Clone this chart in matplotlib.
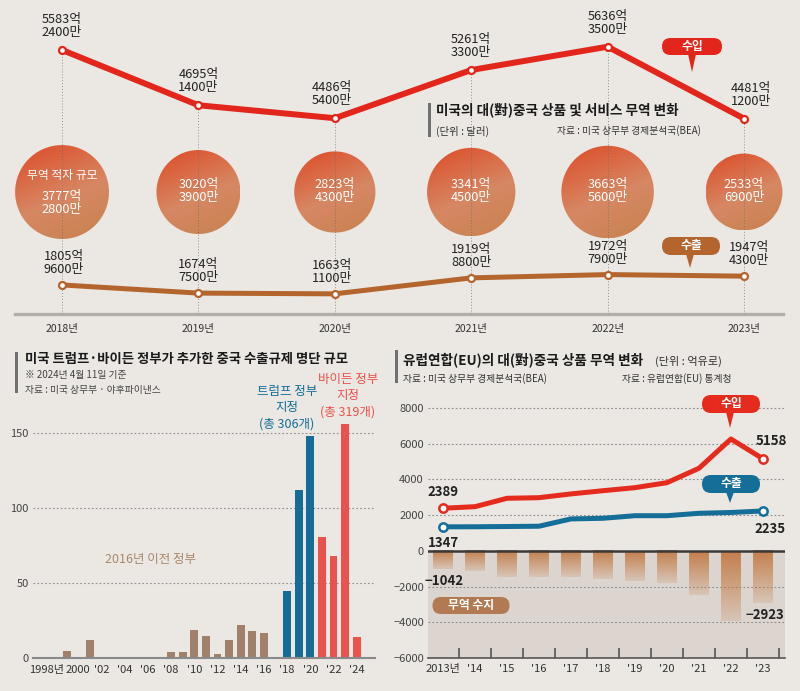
import numpy as np
import matplotlib
matplotlib.use("Agg")
import matplotlib.pyplot as plt
from matplotlib.patches import Ellipse, FancyBboxPatch, Polygon, Rectangle
from matplotlib.transforms import Affine2D, ScaledTranslation
import matplotlib.colors as mcolors

plt.rcParams['font.family'] = ['Noto Sans CJK KR', 'DejaVu Sans']

# ---------------- data ----------------
us_years = [2018, 2019, 2020, 2021, 2022, 2023]
us_import = [5583.24, 4695.14, 4486.54, 5261.33, 5636.35, 4481.12]
us_import_labels = ["5583억\n2400만", "4695억\n1400만", "4486억\n5400만",
                    "5261억\n3300만", "5636억\n3500만", "4481억\n1200만"]
us_export = [1805.96, 1674.75, 1663.11, 1919.88, 1972.79, 1947.43]
us_export_labels = ["1805억\n9600만", "1674억\n7500만", "1663억\n1100만",
                    "1919억\n8800만", "1972억\n7900만", "1947억\n4300만"]
us_deficit = [3777.28, 3020.39, 2823.43, 3341.45, 3663.56, 2533.69]
us_deficit_labels = ["3777억\n2800만", "3020억\n3900만", "2823억\n4300만",
                     "3341억\n4500만", "3663억\n5600만", "2533억\n6900만"]

el_years = list(range(1997, 2025))
el_counts = [1, 0, 5, 0, 12, 0, 0, 0, 0, 0, 0, 4, 4, 19, 15, 3, 12, 22, 18, 17,
             1, 45, 112, 148, 81, 68, 156, 14]
el_admin = ['pre'] * 20 + ['trump'] * 4 + ['biden'] * 4
el_tick_years = list(range(1998, 2025, 2))
el_tick_labels = ["1998년", "2000", "'02", "'04", "'06", "'08", "'10", "'12",
                  "'14", "'16", "'18", "'20", "'22", "'24"]

eu_years = list(range(2013, 2024))
eu_import = [2389, 2475, 2945, 2980, 3190, 3370, 3540, 3820, 4625, 6265, 5158]
eu_export = [1347, 1350, 1365, 1380, 1790, 1825, 1970, 1970, 2105, 2150, 2235]
eu_balance = [-1042, -1130, -1490, -1490, -1470, -1580, -1680, -1825, -2460, -3910, -2923]
eu_tick_labels = ["2013년", "'14", "'15", "'16", "'17", "'18", "'19", "'20", "'21", "'22", "'23"]

# ---------------- style ----------------
BG = '#ebe7e3'
RED_TOP = '#e2261b'
BROWN_TOP = '#b4652e'
BAR_PRE = '#a0806a'
BAR_TRUMP = '#146d97'
BAR_BIDEN = '#ea524e'
EU_RED = '#e42b1e'
EU_BLUE = '#156e97'
TXT = '#222222'

W, H = 800, 691
fig = plt.figure(figsize=(W / 100, H / 100), dpi=100, facecolor=BG)
PX = Affine2D().scale(1 / W, -1 / H).translate(0, 1) + fig.transFigure


def ax_rect(x0, y0, x1, y1):
    return [x0 / W, 1 - y1 / H, (x1 - x0) / W, (y1 - y0) / H]


def bubble(cx, cy, w, h, color, text, tip=None, fs=8.5):
    box = FancyBboxPatch((cx - w / 2, cy - h / 2), w, h,
                         boxstyle=f"round,pad=0,rounding_size={h / 2}",
                         transform=PX, fc=color, ec='none', zorder=10)
    fig.add_artist(box)
    if tip is not None:
        tx, ty = tip
        tri = Polygon([(tx - 4, cy + h / 2 - 1), (tx + 4, cy + h / 2 - 1), (tx, ty)],
                      closed=True, transform=PX, fc=color, ec='none', zorder=10)
        fig.add_artist(tri)
    fig.text(cx, cy, text, transform=PX, ha='center', va='center', color='white',
             fontsize=fs, fontweight='bold', zorder=11)


def title_block(x_bar, y0, y1, x_text, y_title, title, fs):
    fig.add_artist(Rectangle((x_bar, y0), 3, y1 - y0, transform=PX, fc='#707070', ec='none'))
    fig.text(x_text, y_title, title, transform=PX, ha='left', va='center',
             fontsize=fs, fontweight='bold', color='#1a1a1a')


# ================= top panel =================
ax1 = fig.add_axes(ax_rect(15, 0, 783, 314))
ax1.set_facecolor('none')
x_lim1 = (2017.655, 2023.286)
y_lim1 = (1339, 6387)
ax1.set_xlim(*x_lim1)
ax1.set_ylim(*y_lim1)
px_per_x = 768 / (x_lim1[1] - x_lim1[0])
px_per_y = 314 / (y_lim1[1] - y_lim1[0])
circle_y = 3300

# gradient circles
N = 120
rr, cc = np.mgrid[0:N, 0:N] / (N - 1)
t = np.clip(0.7 * rr + 0.3 * cc, 0, 1)
stops = np.array([[0.87, 0.29, 0.15], [0.84, 0.53, 0.39], [0.78, 0.51, 0.31]])
img = np.zeros((N, N, 3))
for k in range(3):
    img[..., k] = np.interp(t, [0, 0.55, 1], stops[:, k])

num_kw = dict(fontsize=9.2, fontweight='medium', linespacing=1.0)
for yr, dv, lab in zip(us_years, us_deficit, us_deficit_labels):
    r = 0.764 * np.sqrt(dv)
    w = 2 * r / px_per_x
    h = 2 * r / px_per_y
    e = Ellipse((yr, circle_y), w, h, fc='none', ec='none')
    ax1.add_patch(e)
    im = ax1.imshow(img, extent=[yr - w / 2, yr + w / 2, circle_y - h / 2, circle_y + h / 2],
                    aspect='auto', zorder=2, interpolation='bilinear')
    im.set_clip_path(e)
    if yr == us_years[0]:
        ax1.annotate("무역 적자 규모", (yr, circle_y), xytext=(0, 17), textcoords='offset pixels',
                     ha='center', va='center', color='white', fontsize=8.5, zorder=6)
        ax1.annotate(lab, (yr, circle_y), xytext=(0, -11), textcoords='offset pixels',
                     ha='center', va='center', color='white', zorder=6, **num_kw)
    else:
        ax1.annotate(lab, (yr, circle_y), xytext=(0, 1), textcoords='offset pixels',
                     ha='center', va='center', color='white', zorder=6, **num_kw)

ax1.vlines(us_years, y_lim1[0], us_import, colors='#6a6a6a', linestyles=(0, (1, 2)),
           lw=0.7, alpha=0.7, zorder=3)
ax1.plot(us_years, us_import, color=RED_TOP, lw=4.3, solid_joinstyle='round', zorder=4)
ax1.plot(us_years, us_import, 'o', ms=5, mfc='white', mec=RED_TOP, mew=1.6, zorder=5)
ax1.plot(us_years, us_export, color=BROWN_TOP, lw=3.6, solid_joinstyle='round', zorder=4)
ax1.plot(us_years, us_export, 'o', ms=5, mfc='white', mec=BROWN_TOP, mew=1.6, zorder=5)

imp_dx = [0, 0, -3, 0, 0, 7]
for yr, v, lab, dx in zip(us_years, us_import, us_import_labels, imp_dx):
    ax1.annotate(lab, (yr, v), xytext=(dx, 11), textcoords='offset pixels', ha='center',
                 va='bottom', color=TXT, zorder=6, **num_kw)
exp_dx = [2, 0, -3, 0, 0, 5]
for yr, v, lab, dx in zip(us_years, us_export, us_export_labels, exp_dx):
    ax1.annotate(lab, (yr, v), xytext=(dx, 9), textcoords='offset pixels', ha='center',
                 va='bottom', color=TXT, zorder=6, **num_kw)

ax1.set_xticks(us_years, labels=[f"{y}년" for y in us_years])
ax1.tick_params(axis='x', length=0, pad=7, labelsize=7.5, labelcolor='#333333')
ax1.set_yticks([])
for s in ['left', 'right', 'top']:
    ax1.spines[s].set_visible(False)
ax1.spines['bottom'].set_color('#b3aea9')
ax1.spines['bottom'].set_linewidth(2.4)
ax1.set_xlim(*x_lim1)
ax1.set_ylim(*y_lim1)

title_block(428, 103, 137, 436, 110, "미국의 대(對)중국 상품 및 서비스 무역 변화", 9.8)
fig.text(436, 131, "(단위 : 달러)", transform=PX, ha='left', va='center', fontsize=7.5, color='#333333')
fig.text(557, 131, "자료 : 미국 상무부 경제분석국(BEA)", transform=PX, ha='left', va='center',
         fontsize=7, color='#333333')
bubble(692, 46.5, 60, 17, RED_TOP, "수입", tip=(692, 72))
bubble(691, 246, 58, 18, BROWN_TOP, "수출", tip=(690, 268))

# ================= bottom left panel =================
ax2 = fig.add_axes(ax_rect(33, 370, 375, 658.3))
ax2.set_facecolor('none')
cmap_admin = {'pre': BAR_PRE, 'trump': BAR_TRUMP, 'biden': BAR_BIDEN}
ax2.bar(el_years, el_counts, width=0.68, color=[cmap_admin[a] for a in el_admin], zorder=3)
ax2.set_xlim(1996.1, 2025.58)
ax2.set_ylim(0, 192)
ax2.set_yticks([0, 50, 100, 150])
ax2.yaxis.grid(True, color='#8f8f8f', linestyle=(0, (1.5, 2)), lw=0.8)
ax2.set_axisbelow(True)
ax2.tick_params(axis='y', length=0, pad=3, labelsize=8, labelcolor='#444444')
ax2.set_xticks(el_tick_years, labels=el_tick_labels)
ax2.tick_params(axis='x', length=0, pad=5, labelsize=8, labelcolor='#333333')
first = ax2.get_xticklabels()[0]
first.set_transform(first.get_transform() + ScaledTranslation(-8 / 100, 0, fig.dpi_scale_trans))
for s in ['left', 'right', 'top']:
    ax2.spines[s].set_visible(False)
ax2.spines['bottom'].set_color('#8a8a8a')
ax2.spines['bottom'].set_linewidth(1.5)
ax2.spines['bottom'].set_zorder(4)

ax2.text(2006.2, 65.5, "2016년 이전 정부", ha='center', va='center', fontsize=9, color='#a8896c')
ax2.text(2018.0, 152, "트럼프 정부\n지정\n(총 306개)", ha='center', va='bottom', fontsize=9,
         color=BAR_TRUMP, linespacing=1.3, clip_on=False)
ax2.text(2023.25, 160, "바이든 정부\n지정\n(총 319개)", ha='center', va='bottom', fontsize=9,
         color=BAR_BIDEN, linespacing=1.3, clip_on=False)

title_block(15, 352, 393, 25, 359, "미국 트럼프·바이든 정부가 추가한 중국 수출규제 명단 규모", 9.6)
fig.text(25, 375, "※ 2024년 4월 11일 기준", transform=PX, ha='left', va='center', fontsize=7, color='#444444')
fig.text(25, 390, "자료 : 미국 상무부 · 야후파이낸스", transform=PX, ha='left', va='center', fontsize=7,
         color='#444444')

# ================= bottom right panel =================
ax3 = fig.add_axes(ax_rect(428, 400, 785, 658))
ax3.set_facecolor('none')
x_lim3 = (2012.53, 2023.69)
y_lim3 = (-6000, 8450)
ax3.axhspan(-6000, 0, color='#dcd5cf', zorder=0.2, lw=0)
ax3.set_yticks(list(range(-6000, 8001, 2000)))
ax3.yaxis.grid(True, color='#8a8a8a', linestyle=(0, (1.5, 2)), lw=0.8, zorder=0.5)
ax3.set_axisbelow(True)
ax3.tick_params(axis='y', length=0, pad=3, labelsize=8, labelcolor='#444444')

bar_rgb = mcolors.to_rgb('#c27a45')
grad = np.zeros((60, 1, 4))
grad[..., 0], grad[..., 1], grad[..., 2] = bar_rgb
grad[:, 0, 3] = np.linspace(0.95, 0.18, 60)
for yr, v in zip(eu_years, eu_balance):
    ax3.imshow(grad, extent=[yr - 0.31, yr + 0.31, v, 0], aspect='auto', zorder=1,
               interpolation='bilinear')

ax3.axhline(0, color='#3a3a3a', lw=1.8, zorder=3)
ax3.plot(eu_years, eu_import, color=EU_RED, lw=3.6, solid_joinstyle='round', zorder=4)
ax3.plot(eu_years, eu_export, color=EU_BLUE, lw=3.6, solid_joinstyle='round', zorder=4)
ax3.plot([eu_years[0], eu_years[-1]], [eu_import[0], eu_import[-1]], 'o', ms=6,
         mfc='white', mec=EU_RED, mew=1.8, zorder=5)
ax3.plot([eu_years[0], eu_years[-1]], [eu_export[0], eu_export[-1]], 'o', ms=6,
         mfc='white', mec=EU_BLUE, mew=1.8, zorder=5)

lab_kw = dict(textcoords='offset pixels', fontsize=9.5, fontweight='bold', color=TXT, zorder=6)
ax3.annotate(f"{eu_import[0]}", (eu_years[0], eu_import[0]), xytext=(0, 9), ha='center', va='bottom', **lab_kw)
ax3.annotate(f"{eu_import[-1]}", (eu_years[-1], eu_import[-1]), xytext=(8, 11), ha='center', va='bottom', **lab_kw)
ax3.annotate(f"{eu_export[0]}", (eu_years[0], eu_export[0]), xytext=(0, -9), ha='center', va='top', **lab_kw)
ax3.annotate(f"{eu_export[-1]}", (eu_years[-1], eu_export[-1]), xytext=(7, -11), ha='center', va='top', **lab_kw)
ax3.annotate(f"−{-eu_balance[0]}", (eu_years[0], eu_balance[0]), xytext=(1, -5), ha='center', va='top', **lab_kw)
ax3.annotate(f"−{-eu_balance[-1]}", (eu_years[-1], eu_balance[-1]), xytext=(2, -5), ha='center', va='top', **lab_kw)

ax3.set_xticks(eu_years, labels=eu_tick_labels)
ax3.set_xticks([y + 0.5 for y in eu_years], minor=True)
ax3.tick_params(axis='x', which='major', length=0, pad=4, labelsize=8, labelcolor='#333333')
ax3.tick_params(axis='x', which='minor', direction='in', length=7, width=1.2, color='#555555')
for s in ['left', 'right', 'top']:
    ax3.spines[s].set_visible(False)
ax3.spines['bottom'].set_color('#555555')
ax3.spines['bottom'].set_linewidth(1.2)
ax3.set_xlim(*x_lim3)
ax3.set_ylim(*y_lim3)

title_block(395, 350, 383, 403, 360, "유럽연합(EU)의 대(對)중국 상품 무역 변화", 9.8)
fig.text(655, 361, "(단위 : 억유로)", transform=PX, ha='left', va='center', fontsize=8, color='#333333')
fig.text(403, 379, "자료 : 미국 상무부 경제분석국(BEA)", transform=PX, ha='left', va='center',
         fontsize=7, color='#333333')
fig.text(622, 379, "자료 : 유럽연합(EU) 통계청", transform=PX, ha='left', va='center',
         fontsize=7, color='#333333')
bubble(731, 404, 58, 18, EU_RED, "수입", tip=(730, 428))
bubble(731, 484, 58, 18, EU_BLUE, "수출", tip=(730, 503))
bubble(471, 605.5, 77, 17, '#b27a53', "무역 수지", fs=8.5)

fig.savefig("out.png", dpi=100, facecolor=fig.get_facecolor())
